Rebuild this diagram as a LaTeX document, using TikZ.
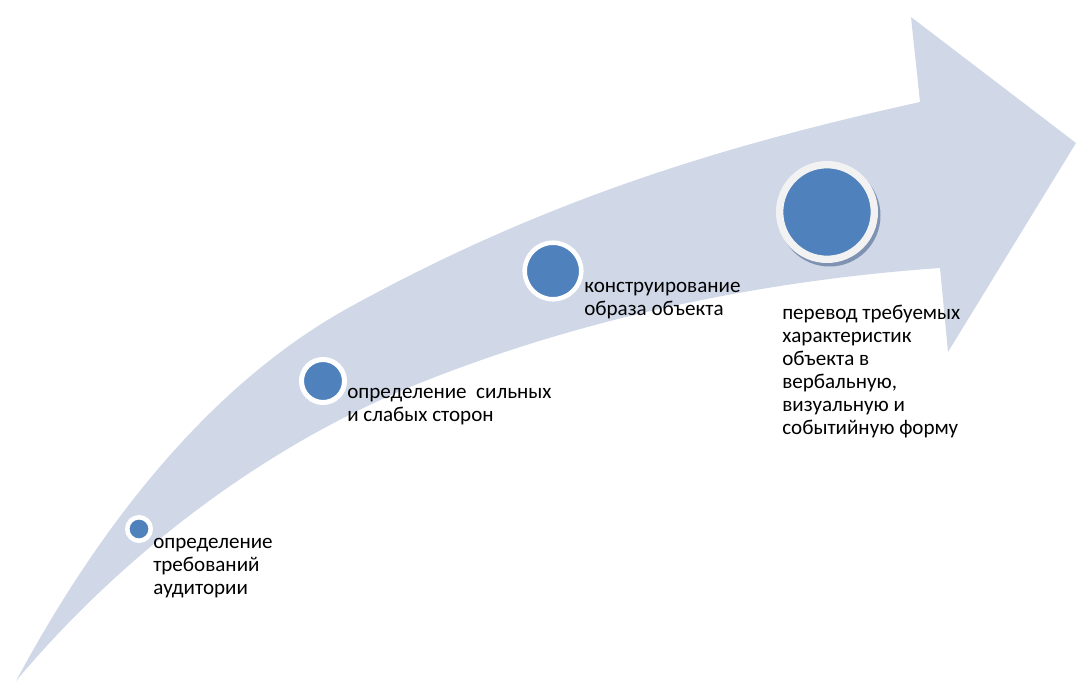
\documentclass[tikz,border=0pt]{standalone}
\usepackage{fontspec}
\setmainfont{Carlito}
\begin{document}
\begin{tikzpicture}[x=0.75pt,y=-0.75pt,
  band/.style={fill=bandblue},
  stage/.style 2 args={circle, inner sep=0pt, fill=dotblue, draw=white,
    line width=#2, minimum size=#1},
  label/.style={anchor=west, inner sep=0pt, align=left,
    font=\fontsize{15.8}{17.25}\selectfont, text=black}]
\definecolor{bandblue}{HTML}{D0D8E8}
\definecolor{dotblue}{HTML}{4F81BD}
\definecolor{ringgrey}{HTML}{F2F2F2}
\definecolor{shadowblue}{HTML}{7F92B2}
\useasboundingbox (0,0) rectangle (1076,682);

% rising curved arrow: upper edge, head, lower edge back to the tail
\fill[band] (16,681)
  .. controls (116,495) and (230,373) .. (350,307)
  .. controls (550,197) and (730,144) .. (920,102)
  -- (911,17) -- (1076,143) -- (948,352) -- (940,268)
  .. controls (770,280) and (590,315) .. (420,383)
  .. controls (270,443) and (126,550) .. (16,681)
  -- cycle;

% stages along the arrow
\node[stage={17.6pt}{3.4pt}] (s1) at (139,529) {};
\node[stage={32.25pt}{3.75pt}] (s2) at (323,381) {};
\node[stage={42.4pt}{3.4pt}] (s3) at (553,271) {};
\fill[shadowblue] (829.5,215.5) circle[radius=51];
\node[stage={71pt}{5.5pt}, draw=ringgrey] (s4) at (827,212) {};

% stage captions
\node[label] (t1) at (153,568) {определение\\требований\\аудитории};
\node[label] (t2) at (347,407) {определение\ \ сильных\\и слабых сторон};
\node[label] (t3) at (584,301) {конструирование\\образа объекта};
\node[label] (t4) at (782,372) {перевод требуемых\\характеристик\\объекта в\\вербальную,\\визуальную и\\событийную форму};
\end{tikzpicture}
\end{document}
